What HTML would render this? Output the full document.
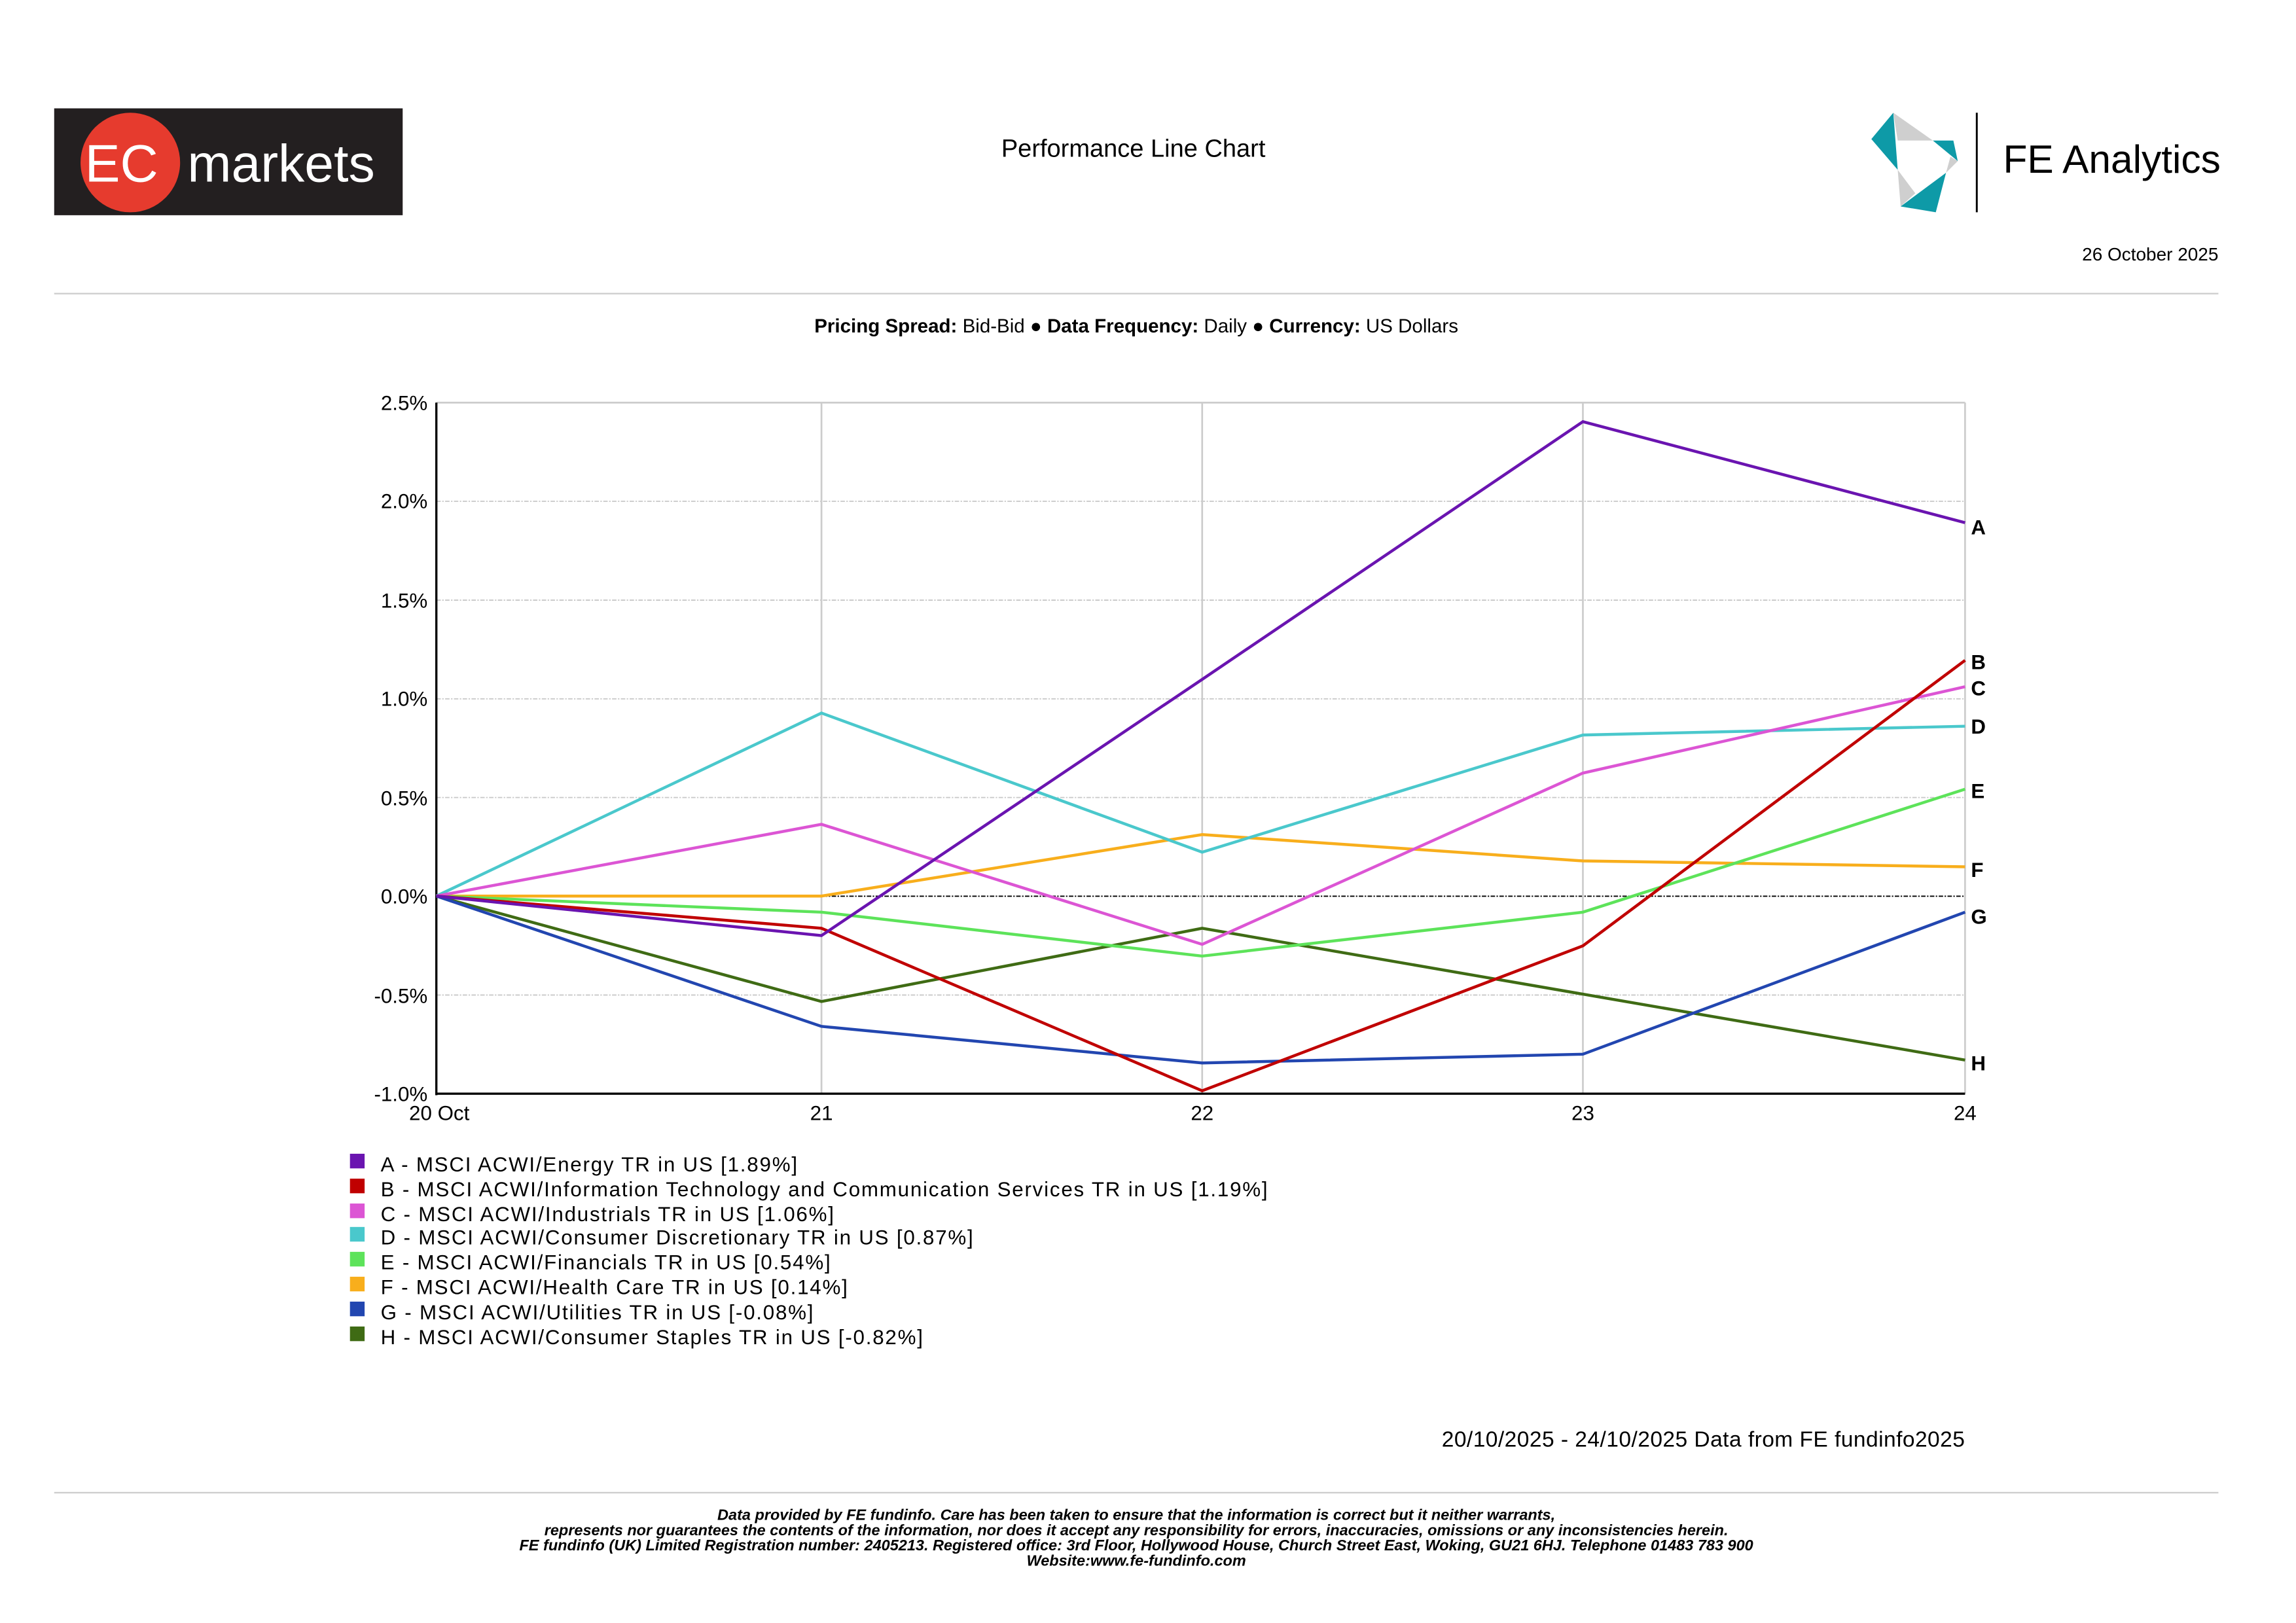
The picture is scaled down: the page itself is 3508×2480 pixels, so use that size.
<!DOCTYPE html>
<html><head><meta charset="utf-8"><style>
html,body{margin:0;padding:0;background:#fff;}
svg{display:block;}
text{font-family:"Liberation Sans",sans-serif;}
</style></head><body>
<svg width="3508" height="2480" viewBox="0 0 1568 1108.5" preserveAspectRatio="none" xmlns="http://www.w3.org/2000/svg">
<rect width="1568" height="1109" fill="#fff"/>
<!-- EC markets logo -->
<rect x="37" y="74" width="238" height="73" fill="#231f20"/>
<circle cx="89" cy="111" r="34" fill="#e63b2e"/>
<text x="58" y="124" font-size="36" fill="#fff">EC</text>
<text x="128" y="124" font-size="36" fill="#fff">markets</text>
<text x="774" y="107" font-size="17" text-anchor="middle" fill="#000">Performance Line Chart</text>
<!-- FE logo -->
<g>
<polygon points="1278,95 1293,77 1296,116" fill="#0e9aa7"/>
<polygon points="1293,77 1320,96 1296,96" fill="#cfcfcf"/>
<polygon points="1320,96 1334,96 1337,110" fill="#0e9aa7"/>
<polygon points="1332,107 1337,110 1329,118" fill="#cfcfcf"/>
<polygon points="1296,116 1308,132 1298,141" fill="#cfcfcf"/>
<polygon points="1329,118 1322,145 1298,141" fill="#0e9aa7"/>
</g>
<line x1="1350" y1="77" x2="1350" y2="145" stroke="#000" stroke-width="1.3"/>
<text x="1368" y="118" font-size="27" fill="#000">FE Analytics</text>
<text x="1515" y="178" font-size="12.5" text-anchor="end" fill="#000">26 October 2025</text>
<line x1="37" y1="200.5" x2="1515" y2="200.5" stroke="#cccccc" stroke-width="1"/>
<text x="776" y="227" font-size="13.2" text-anchor="middle" fill="#000"><tspan font-weight="bold">Pricing Spread:</tspan> Bid-Bid ● <tspan font-weight="bold">Data Frequency:</tspan> Daily ● <tspan font-weight="bold">Currency:</tspan> US Dollars</text>
<!-- chart -->
<g stroke="#c8c8c8" stroke-width="0.8" stroke-dasharray="3,1,1,1">
<line x1="298" y1="342.4" x2="1342" y2="342.4"/>
<line x1="298" y1="409.9" x2="1342" y2="409.9"/>
<line x1="298" y1="477.3" x2="1342" y2="477.3"/>
<line x1="298" y1="544.7" x2="1342" y2="544.7"/>
<line x1="298" y1="679.6" x2="1342" y2="679.6"/>
</g>
<line x1="298" y1="612.1" x2="1342" y2="612.1" stroke="#000" stroke-width="0.8" stroke-dasharray="3,1,1,1"/>
<g stroke="#cccccc" stroke-width="1.2">
<line x1="298" y1="275" x2="1342" y2="275"/>
<line x1="561" y1="275" x2="561" y2="747"/>
<line x1="821" y1="275" x2="821" y2="747"/>
<line x1="1081" y1="275" x2="1081" y2="747"/>
<line x1="1342" y1="275" x2="1342" y2="747"/>
</g>
<line x1="298" y1="275" x2="298" y2="748" stroke="#000" stroke-width="1.5"/>
<line x1="298" y1="747" x2="1342" y2="747" stroke="#000" stroke-width="1.5"/>
<g font-size="14" text-anchor="end" fill="#000">
<text x="292" y="280">2.5%</text>
<text x="292" y="347">2.0%</text>
<text x="292" y="415">1.5%</text>
<text x="292" y="482">1.0%</text>
<text x="292" y="550">0.5%</text>
<text x="292" y="617">0.0%</text>
<text x="292" y="685">-0.5%</text>
<text x="292" y="752">-1.0%</text>
</g>
<g font-size="14" fill="#000" text-anchor="middle">
<text x="300" y="765">20 Oct</text>
<text x="561" y="765">21</text>
<text x="821" y="765">22</text>
<text x="1081" y="765">23</text>
<text x="1342" y="765">24</text>
</g>
<g fill="none" stroke-width="2" stroke-linejoin="miter">
<polyline stroke="#3f6b14" points="298,612 561,684 821,634 1081,679 1342,724"/>
<polyline stroke="#2246b0" points="298,612 561,701 821,726 1081,720 1342,623"/>
<polyline stroke="#f8ae1c" points="298,612 561,612 821,570 1081,588 1342,592"/>
<polyline stroke="#5de35a" points="298,612 561,623 821,653 1081,623 1342,539"/>
<polyline stroke="#4ac8cc" points="298,612 561,487 821,582 1081,502 1342,496"/>
<polyline stroke="#dc55d4" points="298,612 561,563 821,645 1081,528 1342,469"/>
<polyline stroke="#c00000" points="298,612 561,634 821,745 1081,646 1342,451"/>
<polyline stroke="#6a14b0" points="298,612 561,639 821,464 1081,288 1342,357"/>
</g>
<g font-size="14" font-weight="bold" fill="#000">
<text x="1346" y="365">A</text>
<text x="1346" y="457">B</text>
<text x="1346" y="475">C</text>
<text x="1346" y="501">D</text>
<text x="1346" y="545">E</text>
<text x="1346" y="599">F</text>
<text x="1346" y="631">G</text>
<text x="1346" y="731">H</text>
</g>
<!-- legend -->
<g font-size="14" fill="#000" letter-spacing="0.8">
<rect x="239" y="788" width="10" height="10" fill="#6a14b0"/><text x="260" y="800">A - MSCI ACWI/Energy TR in US [1.89%]</text>
<rect x="239" y="805" width="10" height="10" fill="#c00000"/><text x="260" y="817">B - MSCI ACWI/Information Technology and Communication Services TR in US [1.19%]</text>
<rect x="239" y="822" width="10" height="10" fill="#dc55d4"/><text x="260" y="834">C - MSCI ACWI/Industrials TR in US [1.06%]</text>
<rect x="239" y="838" width="10" height="10" fill="#4ac8cc"/><text x="260" y="850">D - MSCI ACWI/Consumer Discretionary TR in US [0.87%]</text>
<rect x="239" y="855" width="10" height="10" fill="#5de35a"/><text x="260" y="867">E - MSCI ACWI/Financials TR in US [0.54%]</text>
<rect x="239" y="872" width="10" height="10" fill="#f8ae1c"/><text x="260" y="884">F - MSCI ACWI/Health Care TR in US [0.14%]</text>
<rect x="239" y="889" width="10" height="10" fill="#2246b0"/><text x="260" y="901">G - MSCI ACWI/Utilities TR in US [-0.08%]</text>
<rect x="239" y="906" width="10" height="10" fill="#3f6b14"/><text x="260" y="918">H - MSCI ACWI/Consumer Staples TR in US [-0.82%]</text>
</g>
<text x="1342" y="988" font-size="15" text-anchor="end" fill="#000" letter-spacing="0.2">20/10/2025 - 24/10/2025 Data from FE fundinfo2025</text>
<line x1="37" y1="1019.5" x2="1515" y2="1019.5" stroke="#cccccc" stroke-width="1"/>
<g font-size="10.5" font-style="italic" font-weight="bold" text-anchor="middle" fill="#000">
<text x="776" y="1038">Data provided by FE fundinfo. Care has been taken to ensure that the information is correct but it neither warrants,</text>
<text x="776" y="1048.5">represents nor guarantees the contents of the information, nor does it accept any responsibility for errors, inaccuracies, omissions or any inconsistencies herein.</text>
<text x="776" y="1059">FE fundinfo (UK) Limited Registration number: 2405213. Registered office: 3rd Floor, Hollywood House, Church Street East, Woking, GU21 6HJ. Telephone 01483 783 900</text>
<text x="776" y="1069.5">Website:www.fe-fundinfo.com</text>
</g>
</svg>
</body></html>
